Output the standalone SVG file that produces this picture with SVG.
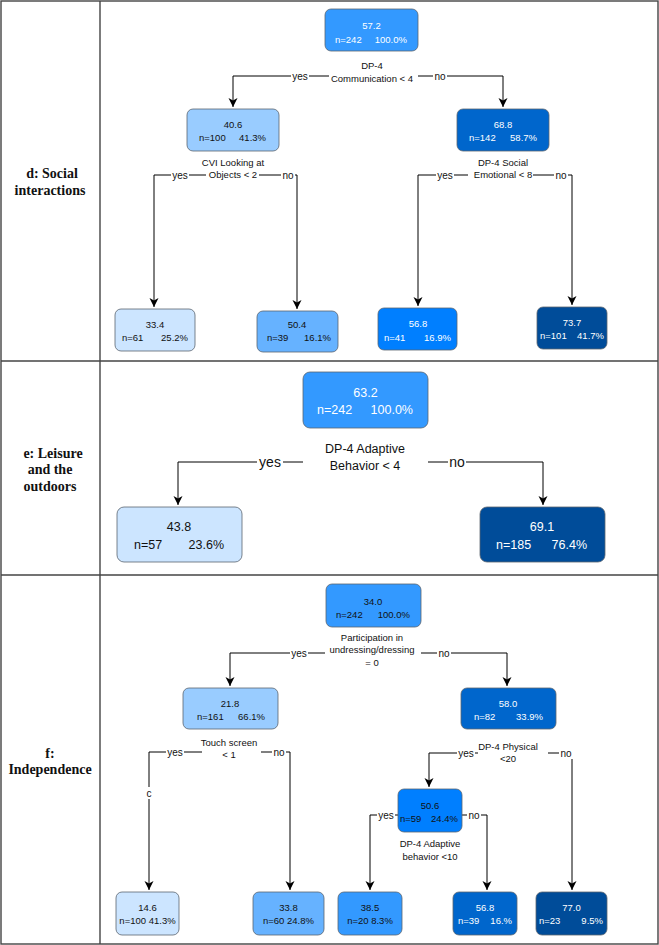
<svg xmlns="http://www.w3.org/2000/svg" width="659" height="945" viewBox="0 0 659 945">
<style>
text{font-family:"Liberation Sans",Arial,sans-serif;font-size:9.5px;fill:#111;dominant-baseline:central}
.c{text-anchor:middle}
.s{text-anchor:start}
.e{text-anchor:end}
.w{fill:#fff}
.sec{font-family:"Liberation Serif","Times New Roman",serif;font-weight:bold;font-size:14px;text-anchor:middle}
.big{font-size:12.5px}
.yn{font-size:10px;text-anchor:middle}
.ynb{font-size:14px;text-anchor:middle}
.box{stroke:#5b6570;stroke-width:0.8}
.grid{fill:none;stroke:#444;stroke-width:1.4}
.edge{fill:none;stroke:#000;stroke-width:1}
.lbg{fill:#fff}
</style>
<defs>
<marker id="arr" markerWidth="10" markerHeight="10" refX="9" refY="5" orient="auto" markerUnits="userSpaceOnUse">
<path d="M0,0.5 L9,5 L0,9.5 L2.5,5 z" fill="#000"/>
</marker>
</defs>
<rect width="659" height="945" fill="#fff"/>
<g id="table">
<rect class="grid" x="1" y="1" width="657" height="943"/>
<line class="grid" x1="100" y1="1" x2="100" y2="944"/>
<line class="grid" x1="1" y1="361" x2="658" y2="361"/>
<line class="grid" x1="1" y1="575" x2="658" y2="575"/>
<text class="sec" x="52" y="173">d: Social</text>
<text class="sec" x="50" y="190">interactions</text>
<text class="sec" x="53" y="453">e: Leisure</text>
<text class="sec" x="50" y="469">and the</text>
<text class="sec" x="50" y="486">outdoors</text>
<text class="sec" x="50" y="753">f:</text>
<text class="sec" x="50" y="769">Independence</text>
</g>
<g id="connectors">
<!-- section d -->
<path class="edge" d="M329,76 H233 V107" marker-end="url(#arr)"/>
<path class="edge" d="M418,76 H503 V107" marker-end="url(#arr)"/>
<path class="edge" d="M206,175 H154 V307" marker-end="url(#arr)"/>
<path class="edge" d="M259,175 H297 V309" marker-end="url(#arr)"/>
<path class="edge" d="M468,175 H418 V306" marker-end="url(#arr)"/>
<path class="edge" d="M533,175 H572 V305" marker-end="url(#arr)"/>
<!-- section e -->
<path class="edge" d="M303,462 H178 V505" marker-end="url(#arr)"/>
<path class="edge" d="M428,462 H543 V505" marker-end="url(#arr)"/>
<!-- section f -->
<path class="edge" d="M325,653 H230 V686" marker-end="url(#arr)"/>
<path class="edge" d="M421,653 H507 V686" marker-end="url(#arr)"/>
<path class="edge" d="M202,752 H149 V890" marker-end="url(#arr)"/>
<path class="edge" d="M261,752 H290 V890" marker-end="url(#arr)"/>
<path class="edge" d="M478,753 H429 V787" marker-end="url(#arr)"/>
<path class="edge" d="M548,753 H572 V890" marker-end="url(#arr)"/>
<path class="edge" d="M399,815 H370 V890" marker-end="url(#arr)"/>
<path class="edge" d="M462,815 H487 V890" marker-end="url(#arr)"/>
<!-- edge labels -->
<rect class="lbg" x="291" y="70" width="18" height="12"/><text class="yn" x="300" y="76">yes</text>
<rect class="lbg" x="433" y="70" width="14" height="12"/><text class="yn" x="440" y="76">no</text>
<rect class="lbg" x="171" y="169" width="18" height="12"/><text class="yn" x="180" y="175">yes</text>
<rect class="lbg" x="281" y="169" width="14" height="12"/><text class="yn" x="288" y="175">no</text>
<rect class="lbg" x="436" y="169" width="18" height="12"/><text class="yn" x="445" y="175">yes</text>
<rect class="lbg" x="554" y="169" width="14" height="12"/><text class="yn" x="561" y="175">no</text>
<rect class="lbg" x="257" y="454" width="26" height="16"/><text class="ynb" x="270" y="462">yes</text>
<rect class="lbg" x="448" y="454" width="18" height="16"/><text class="ynb" x="457" y="462">no</text>
<rect class="lbg" x="290" y="647" width="18" height="12"/><text class="yn" x="299" y="653">yes</text>
<rect class="lbg" x="437" y="647" width="14" height="12"/><text class="yn" x="444" y="653">no</text>
<rect class="lbg" x="166" y="746" width="18" height="12"/><text class="yn" x="175" y="752">yes</text>
<rect class="lbg" x="272" y="746" width="14" height="12"/><text class="yn" x="279" y="752">no</text>
<rect class="lbg" x="144" y="787" width="10" height="12"/><text class="yn" x="149" y="793">c</text>
<rect class="lbg" x="457" y="747" width="18" height="12"/><text class="yn" x="466" y="753">yes</text>
<rect class="lbg" x="559" y="747" width="14" height="12"/><text class="yn" x="566" y="753">no</text>
<rect class="lbg" x="377" y="809" width="18" height="12"/><text class="yn" x="386" y="815">yes</text>
<rect class="lbg" x="467" y="809" width="14" height="12"/><text class="yn" x="474" y="815">no</text>
<!-- split conditions -->
<text class="c" x="372" y="65">DP-4</text>
<text class="c" x="372" y="78">Communication &lt; 4</text>
<text class="c" x="233" y="162">CVI Looking at</text>
<text class="c" x="233" y="174">Objects &lt; 2</text>
<text class="c" x="503" y="162">DP-4 Social</text>
<text class="c" x="503" y="174">Emotional &lt; 8</text>
<text class="c big" x="365" y="449">DP-4 Adaptive</text>
<text class="c big" x="365" y="466">Behavior &lt; 4</text>
<text class="c" x="372" y="637">Participation in</text>
<text class="c" x="372" y="649">undressing/dressing</text>
<text class="c" x="372" y="662">= 0</text>
<text class="c" x="229" y="742">Touch screen</text>
<text class="c" x="229" y="754">&lt; 1</text>
<text class="c" x="508" y="746">DP-4 Physical</text>
<text class="c" x="508" y="758">&lt;20</text>
<text class="c" x="430" y="843">DP-4 Adaptive</text>
<text class="c" x="430" y="856">behavior &lt;10</text>
</g>
<!-- section d nodes -->
<g id="d_root">
<rect class="box" x="325" y="9" width="93" height="42" rx="6" fill="#3399FF"/>
<text class="c w" x="371.5" y="25">57.2</text>
<text class="s w" x="335" y="39">n=242</text>
<text class="e w" x="407" y="39">100.0%</text>
</g>
<g id="d_left">
<rect class="box" x="187" y="109" width="92" height="42" rx="6" fill="#99CCFF"/>
<text class="c" x="233" y="124">40.6</text>
<text class="s" x="199" y="137">n=100</text>
<text class="e" x="266" y="137">41.3%</text>
</g>
<g id="d_right">
<rect class="box" x="457" y="109" width="92" height="42" rx="6" fill="#0066CC"/>
<text class="c w" x="503" y="124">68.8</text>
<text class="s w" x="469" y="137">n=142</text>
<text class="e w" x="537" y="137">58.7%</text>
</g>
<g id="d_leaf1">
<rect class="box" x="115" y="309" width="80" height="42" rx="6" fill="#CCE5FF"/>
<text class="c" x="155" y="324">33.4</text>
<text class="s" x="122" y="337">n=61</text>
<text class="e" x="188" y="337">25.2%</text>
</g>
<g id="d_leaf2">
<rect class="box" x="257" y="311" width="81" height="41" rx="6" fill="#66B2FF"/>
<text class="c" x="297" y="324">50.4</text>
<text class="s" x="267" y="337">n=39</text>
<text class="e" x="331" y="337">16.1%</text>
</g>
<g id="d_leaf3">
<rect class="box" x="378" y="308" width="79" height="42" rx="6" fill="#007FFF"/>
<text class="c w" x="418" y="323">56.8</text>
<text class="s w" x="384" y="337">n=41</text>
<text class="e w" x="451" y="337">16.9%</text>
</g>
<g id="d_leaf4">
<rect class="box" x="537" y="307" width="70" height="42" rx="6" fill="#004C99"/>
<text class="c w" x="572" y="322">73.7</text>
<text class="s w" x="540" y="335">n=101</text>
<text class="e w" x="604" y="335">41.7%</text>
</g>
<!-- section e nodes -->
<g id="e_root">
<rect class="box" x="303" y="372" width="125" height="56" rx="7" fill="#3399FF"/>
<text class="c w big" x="365.5" y="393">63.2</text>
<text class="s w big" x="317" y="410">n=242</text>
<text class="e w big" x="413" y="410">100.0%</text>
</g>
<g id="e_left">
<rect class="box" x="117" y="507" width="125" height="55" rx="7" fill="#CCE5FF"/>
<text class="c big" x="179" y="527">43.8</text>
<text class="s big" x="134" y="545">n=57</text>
<text class="e big" x="224" y="545">23.6%</text>
</g>
<g id="e_right">
<rect class="box" x="480" y="507" width="125" height="55" rx="7" fill="#004C99"/>
<text class="c w big" x="542" y="527">69.1</text>
<text class="s w big" x="496" y="545">n=185</text>
<text class="e w big" x="587" y="545">76.4%</text>
</g>
<!-- section f nodes -->
<g id="f_root">
<rect class="box" x="326" y="584" width="95" height="43" rx="6" fill="#3399FF"/>
<text class="c" x="373" y="601">34.0</text>
<text class="s" x="336" y="614">n=242</text>
<text class="e" x="410" y="614">100.0%</text>
</g>
<g id="f_left">
<rect class="box" x="183" y="688" width="95" height="41" rx="6" fill="#99CCFF"/>
<text class="c" x="230" y="703">21.8</text>
<text class="s" x="197" y="716">n=161</text>
<text class="e" x="265" y="716">66.1%</text>
</g>
<g id="f_right">
<rect class="box" x="461" y="688" width="95" height="41" rx="6" fill="#0066CC"/>
<text class="c w" x="508" y="703">58.0</text>
<text class="s w" x="474" y="716">n=82</text>
<text class="e w" x="543" y="716">33.9%</text>
</g>
<g id="f_mid">
<rect class="box" x="398" y="789" width="64" height="43" rx="6" fill="#007FFF"/>
<text class="c" x="430" y="805">50.6</text>
<text class="s" x="400" y="818">n=59</text>
<text class="e" x="458" y="818">24.4%</text>
</g>
<g id="f_leaf1">
<rect class="box" x="116" y="892" width="63" height="43" rx="6" fill="#CCE5FF"/>
<text class="c" x="147.5" y="907">14.6</text>
<text class="c" x="147.5" y="920">n=100  41.3%</text>
</g>
<g id="f_leaf2">
<rect class="box" x="253" y="892" width="71" height="43" rx="6" fill="#66B2FF"/>
<text class="c" x="288.5" y="907">33.8</text>
<text class="c" x="288.5" y="920">n=60  24.8%</text>
</g>
<g id="f_leaf3">
<rect class="box" x="338" y="892" width="64" height="43" rx="6" fill="#3399FF"/>
<text class="c" x="370" y="907">38.5</text>
<text class="c" x="370" y="920">n=20  8.3%</text>
</g>
<g id="f_leaf4">
<rect class="box" x="453" y="892" width="64" height="43" rx="6" fill="#0066CC"/>
<text class="c w" x="485" y="907">56.8</text>
<text class="s w" x="458" y="920">n=39</text>
<text class="e w" x="512" y="920">16.%</text>
</g>
<g id="f_leaf5">
<rect class="box" x="536" y="892" width="71" height="43" rx="6" fill="#004C99"/>
<text class="c w" x="571.5" y="907">77.0</text>
<text class="s w" x="539" y="920">n=23</text>
<text class="e w" x="603" y="920">9.5%</text>
</g>
</svg>
